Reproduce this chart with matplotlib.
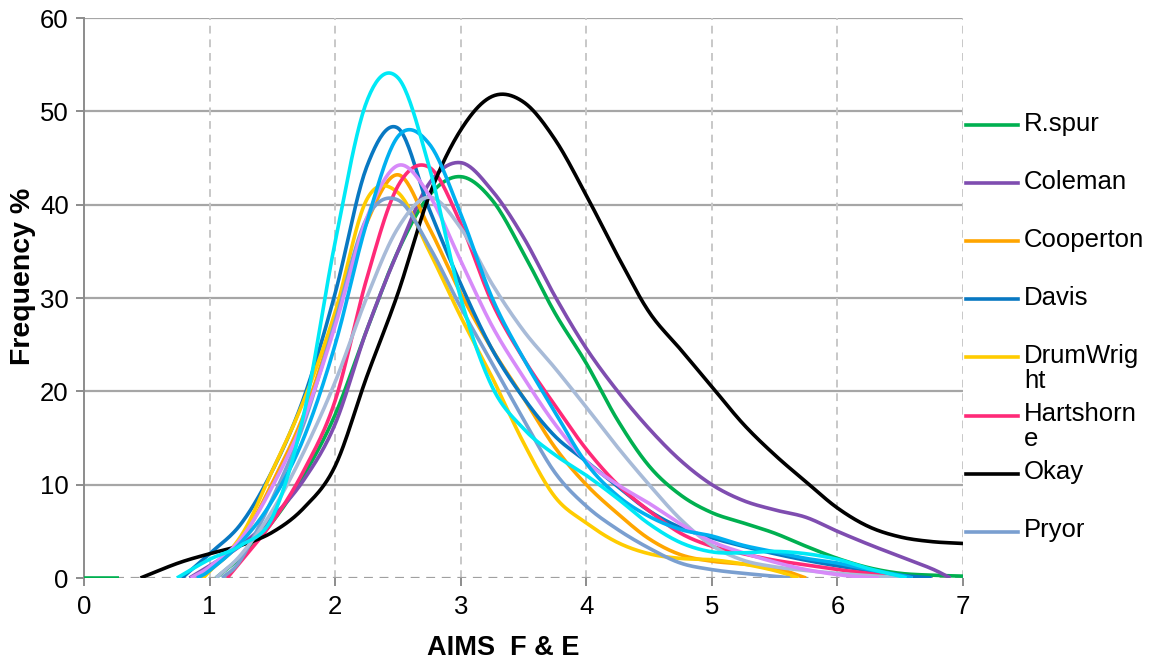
import numpy as np
import matplotlib
matplotlib.use("Agg")
import matplotlib.pyplot as plt
from matplotlib.lines import Line2D

plt.rcParams['font.family'] = ['Liberation Sans', 'DejaVu Sans']

# ---------------- data ----------------
rspur_x0 = [0.0, 0.28]
rspur_y0 = [0.0, 0.0]
rspur_x = [1.05, 1.25, 1.5, 1.75, 2.0, 2.25, 2.5, 2.75, 3.0, 3.25, 3.5, 3.75, 4.0, 4.25, 4.5, 4.75, 5.0, 5.25, 5.5, 5.75, 6.0, 6.25, 6.5, 6.75, 7.0]
rspur_y = [0.0, 2.3, 6.0, 11.0, 17.5, 26.5, 35.0, 41.0, 43.0, 40.5, 34.8, 28.4, 23.0, 16.9, 12.0, 8.9, 7.0, 5.9, 4.8, 3.4, 2.1, 1.1, 0.5, 0.3, 0.2]

coleman_x = [0.84, 1.0, 1.25, 1.5, 1.75, 2.0, 2.25, 2.5, 2.75, 3.0, 3.25, 3.5, 3.75, 4.0, 4.25, 4.5, 4.75, 5.0, 5.25, 5.5, 5.75, 6.0, 6.25, 6.5, 6.75, 6.9]
coleman_y = [0.0, 1.3, 3.5, 6.5, 10.5, 16.5, 26.5, 35.0, 42.3, 44.5, 41.5, 36.5, 30.2, 24.6, 20.0, 16.0, 12.6, 10.0, 8.3, 7.3, 6.5, 5.0, 3.6, 2.3, 1.0, 0.0]

cooperton_x = [0.92, 1.0, 1.25, 1.5, 1.75, 2.0, 2.25, 2.5, 2.75, 3.0, 3.25, 3.5, 3.75, 4.0, 4.25, 4.5, 4.75, 5.0, 5.25, 5.5, 5.75]
cooperton_y = [0.0, 0.8, 4.0, 10.2, 17.5, 27.5, 38.0, 43.2, 37.5, 30.5, 24.5, 19.3, 14.0, 10.0, 6.9, 4.2, 2.5, 1.8, 1.5, 1.1, 0.0]

davis_x = [0.78, 1.0, 1.25, 1.5, 1.75, 2.0, 2.25, 2.5, 2.75, 3.0, 3.25, 3.5, 3.75, 4.0, 4.25, 4.5, 4.75, 5.0, 5.25, 5.5, 5.75, 6.0, 6.25, 6.5, 6.75]
davis_y = [0.0, 2.6, 5.8, 11.5, 19.3, 30.5, 44.0, 48.2, 39.5, 31.5, 24.5, 19.3, 15.2, 12.5, 9.8, 7.2, 5.4, 4.3, 3.4, 2.6, 1.9, 1.3, 0.8, 0.3, 0.0]

drum_x = [0.95, 1.25, 1.5, 1.75, 2.0, 2.25, 2.5, 2.75, 3.0, 3.25, 3.5, 3.75, 4.0, 4.25, 4.5, 4.75, 5.0, 5.25, 5.5, 5.69]
drum_y = [0.0, 4.5, 11.5, 19.0, 28.5, 40.5, 41.3, 35.0, 28.0, 21.5, 14.5, 8.7, 5.9, 3.8, 2.6, 2.1, 1.95, 1.5, 0.8, 0.0]

harts_x = [1.14, 1.25, 1.5, 1.75, 2.0, 2.25, 2.5, 2.75, 3.0, 3.25, 3.5, 3.75, 4.0, 4.25, 4.5, 4.75, 5.0, 5.25, 5.5, 5.75, 6.0, 6.25, 6.5, 6.6]
harts_y = [0.0, 1.8, 6.0, 11.5, 19.0, 32.0, 42.0, 44.0, 38.0, 29.5, 23.5, 18.5, 13.8, 10.0, 7.2, 4.8, 3.4, 2.6, 1.9, 1.4, 0.9, 0.5, 0.15, 0.0]

okay_x = [0.45, 0.75, 1.0, 1.25, 1.5, 1.75, 2.0, 2.25, 2.5, 2.75, 3.0, 3.25, 3.5, 3.75, 4.0, 4.25, 4.5, 4.75, 5.0, 5.25, 5.5, 5.75, 6.0, 6.25, 6.5, 6.75, 7.0]
okay_y = [0.0, 1.6, 2.6, 3.5, 4.9, 7.5, 12.0, 21.5, 30.5, 41.0, 48.0, 51.6, 51.0, 47.0, 41.0, 34.5, 28.5, 24.5, 20.5, 16.5, 13.2, 10.3, 7.5, 5.5, 4.4, 3.9, 3.7]

pryor_x = [1.1, 1.25, 1.5, 1.75, 2.0, 2.25, 2.5, 2.75, 3.0, 3.25, 3.5, 3.75, 4.0, 4.25, 4.5, 4.75, 5.0, 5.25, 5.5, 5.62]
pryor_y = [0.0, 2.0, 8.5, 16.5, 27.5, 38.5, 40.5, 35.5, 29.0, 23.0, 17.0, 11.3, 7.7, 5.2, 3.2, 1.6, 0.9, 0.5, 0.2, 0.0]

cyan_x = [0.74, 1.0, 1.25, 1.5, 1.75, 2.0, 2.25, 2.5, 2.75, 3.0, 3.25, 3.5, 3.75, 4.0, 4.25, 4.5, 4.75, 5.0, 5.25, 5.5, 5.75, 6.0, 6.25, 6.5, 6.55]
cyan_y = [0.0, 2.0, 3.5, 6.5, 17.5, 36.0, 51.0, 53.6, 44.0, 30.0, 20.5, 16.0, 13.2, 11.0, 8.5, 5.8, 3.8, 2.8, 2.7, 2.85, 2.6, 2.0, 1.0, 0.2, 0.0]

violet_x = [0.85, 1.0, 1.25, 1.5, 1.75, 2.0, 2.25, 2.5, 2.75, 3.0, 3.25, 3.5, 3.75, 4.0, 4.25, 4.5, 4.75, 5.0, 5.25, 5.5, 5.75, 6.0, 6.25, 6.33]
violet_y = [0.0, 1.2, 4.2, 9.8, 17.0, 27.0, 38.5, 44.2, 41.0, 34.0, 27.0, 21.5, 16.5, 12.5, 10.0, 8.0, 5.8, 3.9, 2.7, 1.7, 0.9, 0.36, 0.05, 0.0]

sky_x = [0.9, 1.0, 1.25, 1.5, 1.75, 2.0, 2.25, 2.5, 2.75, 3.0, 3.25, 3.5, 3.75, 4.0, 4.25, 4.5, 4.75, 5.0, 5.25, 5.5, 5.75, 6.0, 6.25, 6.5, 6.6]
sky_y = [0.0, 0.8, 3.8, 8.3, 15.0, 25.0, 38.0, 47.3, 46.5, 39.0, 30.0, 23.5, 17.8, 12.3, 8.8, 6.6, 5.2, 4.5, 3.5, 2.8, 2.1, 1.6, 0.9, 0.3, 0.0]

steel_x = [1.05, 1.25, 1.5, 1.75, 2.0, 2.25, 2.5, 2.75, 3.0, 3.25, 3.5, 3.75, 4.0, 4.25, 4.5, 4.75, 5.0, 5.25, 5.5, 5.75, 6.0, 6.25, 6.5, 6.6]
steel_y = [0.0, 2.5, 7.2, 13.5, 21.0, 30.0, 37.5, 40.8, 37.5, 31.5, 26.5, 22.5, 18.3, 14.0, 10.0, 6.3, 3.5, 1.9, 1.2, 0.8, 0.5, 0.25, 0.05, 0.0]

legend_names = ['R.spur', 'Coleman', 'Cooperton', 'Davis', 'DrumWrig\nht', 'Hartshorn\ne', 'Okay', 'Pryor']

x_ticks = [0, 1, 2, 3, 4, 5, 6, 7]
y_ticks = [0, 10, 20, 30, 40, 50, 60]


def smooth(xs, ys, n=24):
    """Excel-like smoothed line (uniform Catmull-Rom through the points)."""
    P = np.column_stack([xs, ys]).astype(float)
    if len(P) < 3:
        return P[:, 0], P[:, 1]
    P = np.vstack([2 * P[0] - P[1], P, 2 * P[-1] - P[-2]])
    t = np.linspace(0, 1, n)[:, None]
    out = []
    for i in range(1, len(P) - 2):
        p0, p1, p2, p3 = P[i - 1], P[i], P[i + 1], P[i + 2]
        seg = 0.5 * (2 * p1 + (-p0 + p2) * t + (2 * p0 - 5 * p1 + 4 * p2 - p3) * t ** 2
                     + (-p0 + 3 * p1 - 3 * p2 + p3) * t ** 3)
        out.append(seg if i == 1 else seg[1:])
    out = np.vstack(out)
    return out[:, 0], out[:, 1]


W, H = 1160, 667
fig = plt.figure(figsize=(W / 100, H / 100), dpi=100)
L, R, T, B = 84, 963, 18, 578
ax = fig.add_axes([L / W, 1 - B / H, (R - L) / W, (B - T) / H])

grid_h = '#A6A6A6'
grid_v = '#C8C8C8'
for yv in y_ticks[1:]:
    ax.axhline(yv, color=grid_h, lw=1.6, zorder=1)
for xv in x_ticks[1:]:
    ax.axvline(xv, color=grid_v, lw=1.4, ls=(0, (4, 3)), zorder=1)
ax.axhline(0, color='#A0A0A0', lw=1.6, ls=(0, (4, 3)), zorder=1.5)

series = [
    (rspur_x, rspur_y, '#00B050'),
    (coleman_x, coleman_y, '#7F4DB0'),
    (cooperton_x, cooperton_y, '#FFA500'),
    (davis_x, davis_y, '#0878C2'),
    (drum_x, drum_y, '#FFCC00'),
    (harts_x, harts_y, '#FF2A78'),
    (okay_x, okay_y, '#000000'),
    (pryor_x, pryor_y, '#7A9FD0'),
    (steel_x, steel_y, '#A8BBD8'),
    (violet_x, violet_y, '#D78AF9'),
    (sky_x, sky_y, '#00B0F0'),
    (cyan_x, cyan_y, '#00E9F6'),
]
lw = 2.6
ax.plot(rspur_x0, rspur_y0, color='#00B050', lw=lw, zorder=3, solid_capstyle='butt')
for i, (xs, ys, c) in enumerate(series):
    sx, sy = smooth(xs, ys)
    ax.plot(sx, sy, color=c, lw=lw, zorder=3 + i * 0.01, solid_capstyle='butt')

ax.set_xlim(0, 7)
ax.set_ylim(0, 60)
ax.set_xticks(x_ticks)
ax.set_yticks(y_ticks)
ax.set_xticklabels([str(v) for v in x_ticks])
ax.set_yticklabels([str(v) for v in y_ticks])
for s in ['top', 'right', 'bottom']:
    ax.spines[s].set_visible(False)
ax.spines['left'].set_color('#8C8C8C')
ax.spines['left'].set_linewidth(1.4)
ax.tick_params(axis='both', colors='#8C8C8C', width=1.4, length=6, labelsize=18.5,
               labelcolor='black', direction='out')
ax.tick_params(axis='x', pad=6)
ax.tick_params(axis='y', pad=5)

ax.set_xlabel('AIMS  F & E', fontsize=19.5, fontweight='bold')
ax.set_ylabel('Frequency %', fontsize=20.5, fontweight='bold')
ax.xaxis.set_label_coords((503 - L) / (R - L), 1 - (648 - T) / (B - T))
ax.yaxis.set_label_coords((23 - L) / (R - L), 1 - (276 - T) / (B - T))
ax.xaxis.label.set_va('center')
ax.yaxis.label.set_va('center')

# legend (manual, matching the truncated/wrapped legend of the reference)
leg_top = 125
leg_step = 58.1
for i, name in enumerate(legend_names):
    ypx = leg_top + i * leg_step
    yf = 1 - ypx / H
    fig.add_artist(Line2D([966 / W, 1018 / W], [yf, yf], transform=fig.transFigure,
                          color=series[i][2], lw=lw))
    fig.text(1024 / W, yf + 13.5 / H, name, fontsize=18.5, va='top', ha='left',
             linespacing=1.05)

fig.savefig('out.png', dpi=100)
